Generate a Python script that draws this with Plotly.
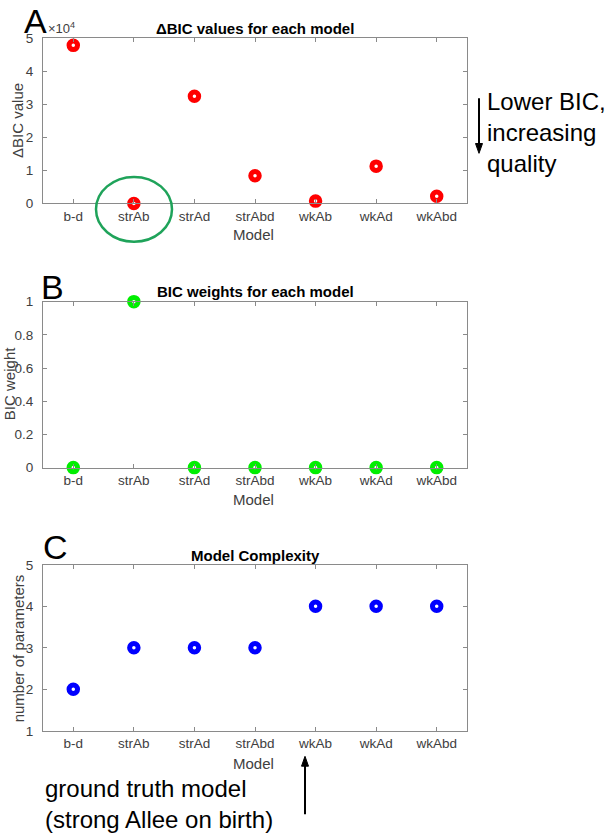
import plotly.graph_objects as go

models = ["b-d", "strAb", "strAd", "strAbd", "wkAb", "wkAd", "wkAbd"]
delta_bic = [47900, 0, 32500, 8400, 700, 11300, 2200]
bic_weight = [0, 1, 0, 0, 0, 0, 0]
n_params = [2, 3, 3, 3, 4, 4, 4]

W, H = 608, 839
def px(x):
    return x / W
def py(y):
    return 1 - y / H

FONT = "Liberation Sans, Arial, Helvetica, sans-serif"
AX_COLOR = "#8a8a8a"
TICK_FONT = dict(family=FONT, size=13.5, color="#404040")

fig = go.Figure()

def add_scatter(vals, color, xa, ya):
    fig.add_trace(go.Scatter(
        x=models, y=vals, mode="markers", xaxis=xa, yaxis=ya,
        marker=dict(symbol="circle-open", size=8.5, color=color,
                    line=dict(width=5, color=color)),
        cliponaxis=False, showlegend=False, hoverinfo="x+y"))

add_scatter(delta_bic, "#ff0000", "x", "y")
add_scatter(bic_weight, "#00ee00", "x2", "y2")
add_scatter(n_params, "#0000ff", "x3", "y3")

xdom = [px(43), px(467)]
panels = [(32, 200), (300, 469), (568, 737)]

def xaxis_cfg(anchor):
    return dict(domain=xdom, anchor=anchor, type="category", range=[-0.5, 6.5],
                showline=True, linecolor=AX_COLOR, linewidth=1, mirror="ticks",
                ticks="inside", ticklen=4, tickcolor=AX_COLOR, showgrid=False,
                tickfont=TICK_FONT, zeroline=False, ticklabelstandoff=0)

def yaxis_cfg(anchor, top, bottom, rng, tickvals, ticktext):
    return dict(domain=[py(bottom), py(top)], anchor=anchor, range=rng,
                tickvals=tickvals, ticktext=ticktext,
                showline=True, linecolor=AX_COLOR, linewidth=1, mirror="ticks",
                ticks="inside", ticklen=4, tickcolor=AX_COLOR, showgrid=False,
                tickfont=TICK_FONT, zeroline=False, ticklabelstandoff=6)

fig.update_layout(
    width=W, height=H, margin=dict(l=0, r=0, t=0, b=0),
    paper_bgcolor="white", plot_bgcolor="white",
    xaxis=xaxis_cfg("y"),
    xaxis2=xaxis_cfg("y2"),
    xaxis3=xaxis_cfg("y3"),
    yaxis=yaxis_cfg("x", *panels[0], [0, 50000], [0, 10000, 20000, 30000, 40000, 50000],
                    ["0", "1", "2", "3", "4", "5"]),
    yaxis2=yaxis_cfg("x2", *panels[1], [0, 1], [0, 0.2, 0.4, 0.6, 0.8, 1],
                     ["0", "0.2", "0.4", "0.6", "0.8", "1"]),
    yaxis3=yaxis_cfg("x3", *panels[2], [1, 5], [1, 2, 3, 4, 5],
                     ["1", "2", "3", "4", "5"]),
)

ann = []
def text(x, y, s, size=15, color="#404040", bold=False, angle=0, xanchor="center", yanchor="middle", align="center"):
    ann.append(dict(x=px(x), y=py(y), xref="paper", yref="paper", text=s,
                    showarrow=False, textangle=angle, xanchor=xanchor, yanchor=yanchor, align=align,
                    font=dict(family=FONT, size=size, color=color,
                              weight="bold" if bold else "normal")))

# titles
text(255, 22, "ΔBIC values for each model", size=15, color="black", bold=True)
text(255, 290, "BIC weights for each model", size=15, color="black", bold=True)
text(255, 558, "Model Complexity", size=15, color="black", bold=True)
# panel letters
text(35, 14, "A", size=34, color="black")
text(52, 285, "B", size=34, color="black")
text(55, 550, "C", size=34, color="black")
# exponent
text(46, 21, "×10<sup>4</sup>", size=13, xanchor="left")
# axis titles
text(18, 116, "ΔBIC value", angle=-90)
text(9, 384, "BIC weight", angle=-90)
text(18, 653, "number of parameters", angle=-90)
text(253, 232, "Model")
text(253, 501, "Model")
text(253, 770, "Model")
# side text
text(485, 128, "Lower BIC,<br>increasing<br>quality", size=24, color="black", xanchor="left", align="left")
text(43, 811, "ground truth model<br>(strong Allee on birth)", size=24, color="black", xanchor="left", align="left")

fig.update_layout(annotations=ann)

# arrows drawn as shapes (shaft + head)
def arrow(x, y_tail, y_head):
    d = 1 if y_head > y_tail else -1
    hl = 10
    fig.add_shape(type="line", xref="paper", yref="paper",
                  x0=px(x), x1=px(x), y0=py(y_tail), y1=py(y_head - d * hl * 0.6),
                  line=dict(color="black", width=2))
    path = "M {} {} L {} {} L {} {} Z".format(
        px(x - 3.5), py(y_head - d * hl), px(x), py(y_head), px(x + 3.5), py(y_head - d * hl))
    fig.add_shape(type="path", xref="paper", yref="paper", path=path,
                  fillcolor="black", line=dict(color="black", width=1))

arrow(479, 93, 149)
arrow(305, 822, 763)

# green ellipse around best model
fig.add_shape(type="circle", xref="paper", yref="paper",
              x0=px(96), x1=px(172), y0=py(239), y1=py(173),
              line=dict(color="#1fa35a", width=2.5))

# remove default page margin so the 608x839 figure fills the window exactly
fig.write_html("out.html", config={"displayModeBar": False},
               post_script="document.body.style.margin='0';document.body.style.overflow='hidden';")
